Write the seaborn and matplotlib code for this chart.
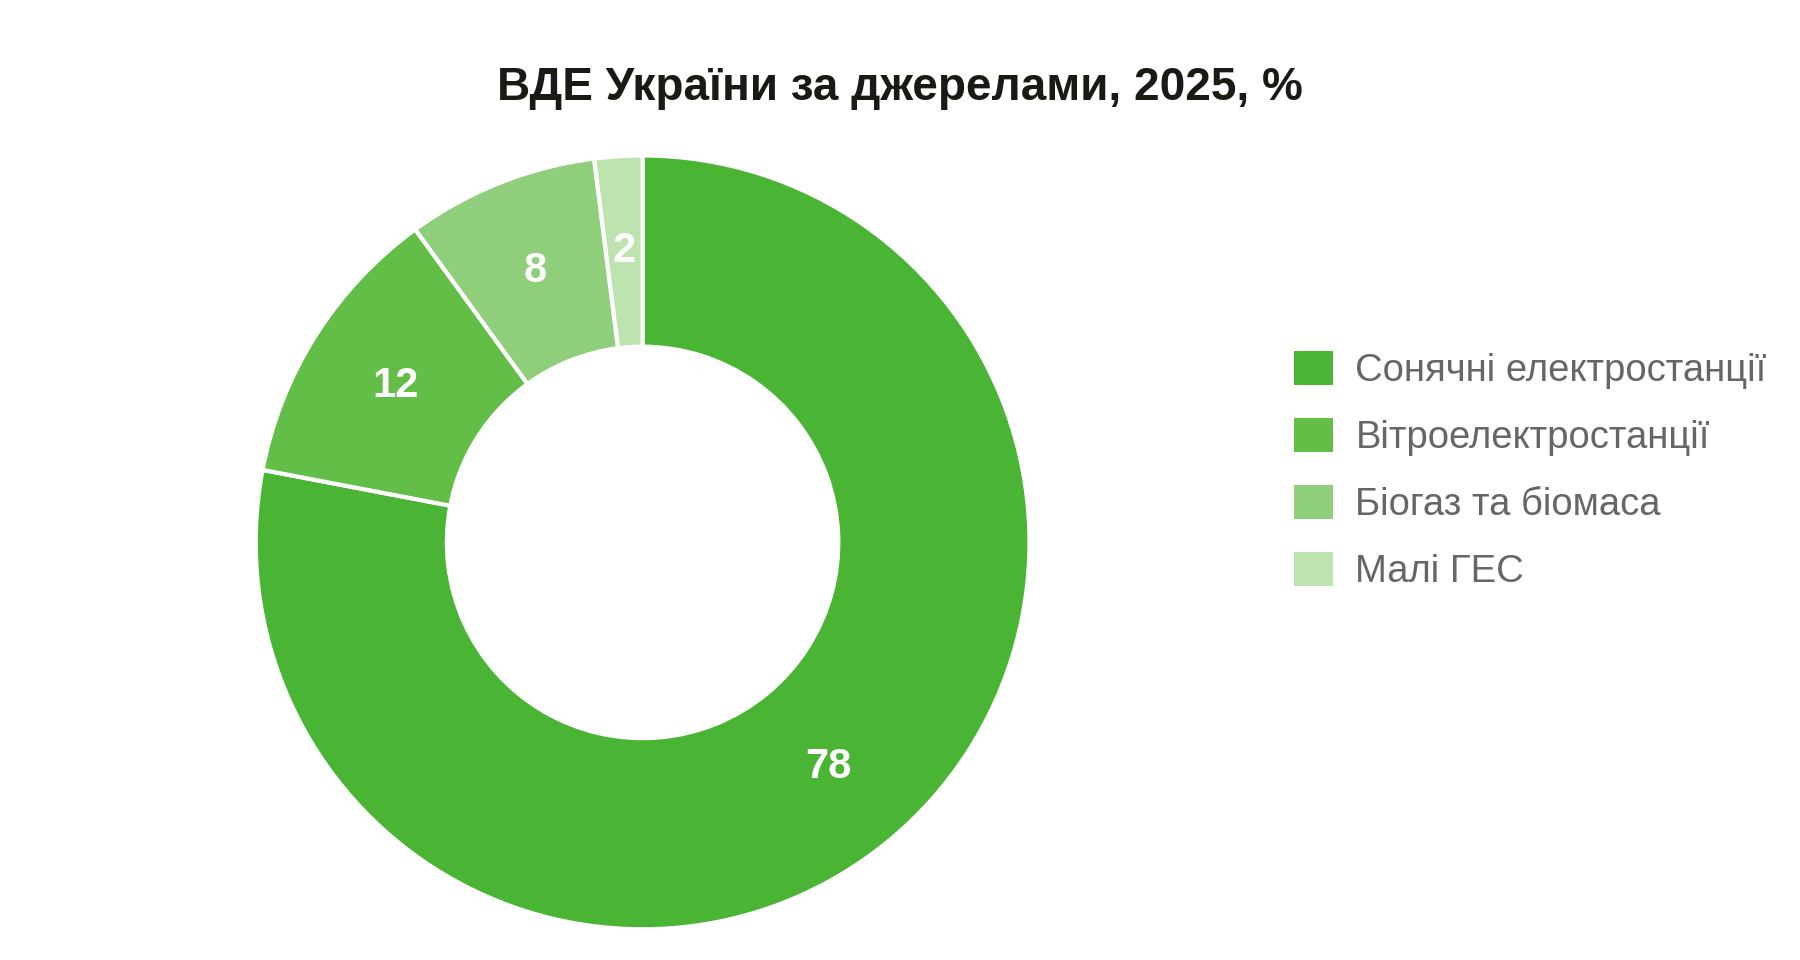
import matplotlib
matplotlib.use("Agg")
import matplotlib.pyplot as plt
import seaborn as sns
from matplotlib.patches import Patch

sns.set_theme(style="white")
plt.rcParams['font.family'] = ['Liberation Sans', 'DejaVu Sans']

categories = ["Сонячні електростанції", "Вітроелектростанції", "Біогаз та біомаса", "Малі ГЕС"]
values = [78, 12, 8, 2]
colors = ["#4ab535", "#62be46", "#8fce7b", "#bde3ae"]
title = "ВДЕ України за джерелами, 2025, %"

fig = plt.figure(figsize=(18, 9.6), dpi=100)
fig.patch.set_facecolor("white")
ax = fig.add_axes([0.141, 0.03, 0.432, 0.81])
wedges, texts, autotexts = ax.pie(
    values, colors=colors, startangle=90, counterclock=False,
    autopct=lambda p: f"{p:.0f}", pctdistance=0.755,
    wedgeprops=dict(width=0.494, edgecolor="white", linewidth=3),
    textprops=dict(color="white", fontsize=30, fontweight="bold"))
ax.set_xlim(-1.005, 1.005)
ax.set_ylim(-1.005, 1.005)
ax.set_aspect("equal")
ax.axis("off")

fig.text(0.5, 0.908, title, ha="center", va="center", fontsize=33,
         fontweight="bold", color="#1a1a14")

handles = [Patch(facecolor=c, edgecolor="none") for c in colors]
leg = fig.legend(handles, categories, loc="center left", bbox_to_anchor=(0.7, 0.51),
                 frameon=False, fontsize=27.5, labelcolor="#666666",
                 handlelength=1.0, handleheight=1.0, labelspacing=0.75, handletextpad=0.6)
fig.savefig("out.png", dpi=100, facecolor="white")
